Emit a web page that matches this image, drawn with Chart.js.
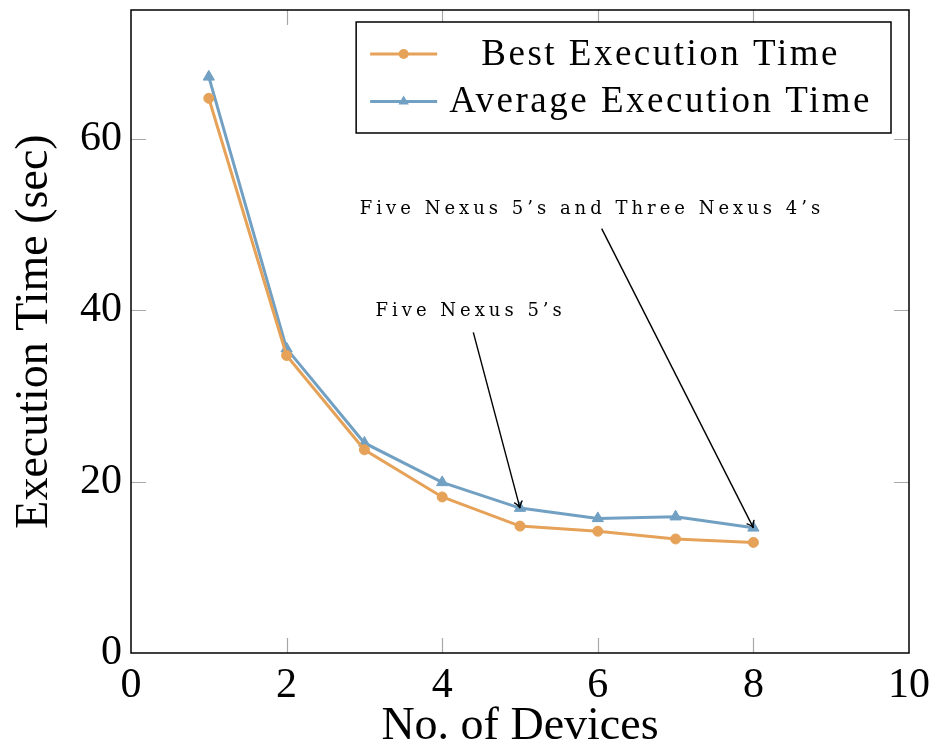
<!DOCTYPE html>
<html><head><meta charset="utf-8">
<script src="https://cdn.jsdelivr.net/npm/chart.js@4/dist/chart.umd.min.js"></script>
<style>html,body{margin:0;padding:0;background:#fff}</style>
</head><body>
<canvas id="c" width="935" height="750" style="width:935px;height:750px;display:block"></canvas>
<script>
// ---- data ----
const deviceCounts = [1, 2, 3, 4, 5, 6, 7, 8];
const bestTimes = [64.7, 34.7, 23.7, 18.2, 14.8, 14.2, 13.3, 12.9];
const averageTimes = [67.2, 35.5, 24.5, 19.9, 16.9, 15.7, 15.9, 14.6];
const seriesNames = ['Best Execution Time', 'Average Execution Time'];
const xTicks = [0, 2, 4, 6, 8, 10];
const yTicks = [0, 20, 40, 60];
const xTitle = 'No. of Devices';
const yTitle = 'Execution Time (sec)';
const annotationLabels = ['Five Nexus 5\u2019s', 'Five Nexus 5\u2019s and Three Nexus 4\u2019s'];
const annotationTextX = [4.34, 5.90];
const annotationTextY = [39.8, 51.7];
const annotationFromX = [4.40, 6.05];
const annotationFromY = [37.4, 49.5];
const annotationToIndex = [4, 7];

const ORANGE = 'rgb(229,162,88)';
const BLUE = 'rgb(113,160,195)';
const SERIF = "'Liberation Serif', serif";

function pts(ys) { return deviceCounts.map((x, i) => ({ x: x, y: ys[i] })); }

const decor = {
  id: 'decor',
  beforeDatasetsDraw(chart) {
    const { ctx, chartArea: a, scales: { x, y } } = chart;
    ctx.save();
    ctx.strokeStyle = '#a8a8a8';
    ctx.lineWidth = 1.2;
    const L = 15;
    ctx.beginPath();
    xTicks.forEach(v => {
      const p = Math.round(x.getPixelForValue(v)) + 0.5;
      if (p < a.left + 2 || p > a.right - 2) return;
      ctx.moveTo(p, a.bottom); ctx.lineTo(p, a.bottom - L);
      ctx.moveTo(p, a.top); ctx.lineTo(p, a.top + L);
    });
    yTicks.forEach(v => {
      const p = Math.round(y.getPixelForValue(v)) + 0.5;
      if (p < a.top + 2 || p > a.bottom - 2) return;
      ctx.moveTo(a.left, p); ctx.lineTo(a.left + L, p);
      ctx.moveTo(a.right, p); ctx.lineTo(a.right - L, p);
    });
    ctx.stroke();
    ctx.restore();
  },
  afterDatasetsDraw(chart) {
    const { ctx, chartArea: a, scales: { x, y } } = chart;
    ctx.save();
    // frame
    ctx.strokeStyle = '#000';
    ctx.lineWidth = 1.5;
    ctx.strokeRect(a.left, a.top, a.right - a.left, a.bottom - a.top);

    // annotations
    ctx.font = "18px 'DejaVu Serif', serif";
    ctx.letterSpacing = '4px';
    ctx.fillStyle = '#000';
    ctx.textAlign = 'center';
    ctx.textBaseline = 'middle';
    annotationLabels.forEach((t, i) => {
      ctx.fillText(t, x.getPixelForValue(annotationTextX[i]) + 2, y.getPixelForValue(annotationTextY[i]));
      const x0 = x.getPixelForValue(annotationFromX[i]), y0 = y.getPixelForValue(annotationFromY[i]);
      const k = annotationToIndex[i];
      const x1 = x.getPixelForValue(deviceCounts[k]), y1 = y.getPixelForValue(averageTimes[k]);
      ctx.lineWidth = 1.4;
      ctx.beginPath(); ctx.moveTo(x0, y0); ctx.lineTo(x1, y1); ctx.stroke();
      const ang = Math.atan2(y1 - y0, x1 - x0), h = 8;
      ctx.beginPath();
      ctx.moveTo(x1 - h * Math.cos(ang - 0.55), y1 - h * Math.sin(ang - 0.55));
      ctx.quadraticCurveTo(x1 - 2 * Math.cos(ang), y1 - 2 * Math.sin(ang), x1, y1);
      ctx.quadraticCurveTo(x1 - 2 * Math.cos(ang), y1 - 2 * Math.sin(ang), x1 - h * Math.cos(ang + 0.55), y1 - h * Math.sin(ang + 0.55));
      ctx.stroke();
    });
    ctx.letterSpacing = '0px';

    // legend
    ctx.font = '37px ' + SERIF;
    ctx.letterSpacing = '2.5px';
    const tw = Math.max(...seriesNames.map(s => ctx.measureText(s).width));
    const padL = 14, sample = 67, gap = 12, padR = 19;
    const boxW = padL + sample + gap + tw + padR, boxH = 111;
    const bx = a.right - 18 - boxW, by = a.top + 12;
    ctx.fillStyle = '#fff';
    ctx.fillRect(bx, by, boxW, boxH);
    ctx.strokeStyle = '#000';
    ctx.lineWidth = 1.5;
    ctx.strokeRect(bx, by, boxW, boxH);
    const rows = [by + 32, by + 79.5];
    const colors = [ORANGE, BLUE];
    seriesNames.forEach((s, i) => {
      const ry = rows[i];
      ctx.strokeStyle = colors[i];
      ctx.fillStyle = colors[i];
      ctx.lineWidth = 3;
      ctx.beginPath(); ctx.moveTo(bx + padL, ry); ctx.lineTo(bx + padL + sample, ry); ctx.stroke();
      const cx = bx + padL + sample / 2;
      ctx.beginPath();
      if (i === 0) {
        ctx.arc(cx, ry, 5, 0, Math.PI * 2);
      } else {
        const r = 6;
        ctx.moveTo(cx, ry - r);
        ctx.lineTo(cx + r * 0.866, ry + r * 0.5);
        ctx.lineTo(cx - r * 0.866, ry + r * 0.5);
        ctx.closePath();
      }
      ctx.fill();
      ctx.fillStyle = '#000';
      ctx.textAlign = 'center';
      ctx.textBaseline = 'middle';
      ctx.fillText(s, bx + padL + sample + gap + tw / 2, ry + 1);
    });
    ctx.letterSpacing = '0px';
    ctx.restore();
  }
};

function zeroPad(s) { s.paddingTop = 0; s.paddingBottom = 0; s.paddingLeft = 0; s.paddingRight = 0; }

new Chart(document.getElementById('c'), {
  type: 'line',
  data: {
    datasets: [
      {
        label: seriesNames[0], data: pts(bestTimes),
        borderColor: ORANGE, backgroundColor: ORANGE, borderWidth: 3,
        pointStyle: 'circle', pointRadius: 5, pointBorderWidth: 1,
        pointBackgroundColor: ORANGE, pointBorderColor: ORANGE, tension: 0
      },
      {
        label: seriesNames[1], data: pts(averageTimes),
        borderColor: BLUE, backgroundColor: BLUE, borderWidth: 3,
        pointStyle: 'triangle', pointRadius: 6.5, pointBorderWidth: 1,
        pointBackgroundColor: BLUE, pointBorderColor: BLUE, tension: 0
      }
    ]
  },
  options: {
    responsive: false, animation: false, devicePixelRatio: 1,
    layout: { padding: { top: 10, right: 26, left: 0, bottom: 0 } },
    plugins: { legend: { display: false }, tooltip: { enabled: false } },
    scales: {
      x: {
        type: 'linear', min: 0, max: 10,
        afterBuildTicks(s) { s.ticks = xTicks.map(v => ({ value: v })); },
        afterFit(s) { s.height = 97; zeroPad(s); },
        grid: { display: false, drawTicks: false }, border: { display: false },
        ticks: { font: { family: SERIF, size: 42, lineHeight: 1 }, color: '#000', padding: 12, maxRotation: 0, autoSkip: false },
        title: { display: true, text: xTitle, color: '#000', font: { family: SERIF, size: 46, lineHeight: 1 }, padding: { top: 0, bottom: 0 } }
      },
      y: {
        type: 'linear', min: 0, max: 75,
        afterBuildTicks(s) { s.ticks = yTicks.map(v => ({ value: v })); },
        afterFit(s) { s.width = 131; zeroPad(s); },
        grid: { display: false, drawTicks: false }, border: { display: false },
        ticks: { font: { family: SERIF, size: 42, lineHeight: 1 }, color: '#000', padding: 9, autoSkip: false },
        title: { display: true, text: yTitle, color: '#000', font: { family: SERIF, size: 46, lineHeight: 1 }, padding: { top: 12, bottom: 0 } }
      }
    }
  },
  plugins: [decor]
});
</script>
</body></html>
